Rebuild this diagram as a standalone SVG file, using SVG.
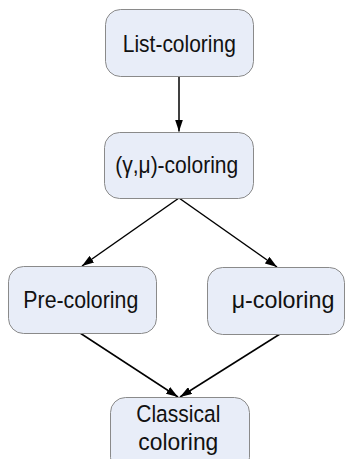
<svg xmlns="http://www.w3.org/2000/svg" width="345" height="459" viewBox="0 0 345 459">
<defs>
<marker id="ah" viewBox="0 0 12 8" refX="12" refY="4" markerWidth="12" markerHeight="8" markerUnits="userSpaceOnUse" orient="auto">
<path d="M0,0 L12,4 L0,8 Z" fill="#000"/>
</marker>
<style>
.box{fill:#E8EDF8;stroke:#8A8A8A;stroke-width:1}
.t{font-family:"Liberation Sans",Arial,sans-serif;font-size:24.5px;fill:#111;text-anchor:middle}
.c{stroke:#000;stroke-width:1.5;fill:none;marker-end:url(#ah)}
</style>
</defs>
<rect width="345" height="459" fill="#fff"/>
<g id="connectors">
<line class="c" x1="179" y1="76" x2="179" y2="131.5"/>
<line class="c" x1="179" y1="198" x2="82" y2="266"/>
<line class="c" x1="179" y1="198" x2="277" y2="267"/>
<line class="c" x1="80" y1="333" x2="178" y2="397"/>
<line class="c" x1="280" y1="334" x2="180" y2="397"/>
</g>
<g id="list-coloring">
<rect class="box" x="105.5" y="9.5" width="148" height="67" rx="15"/>
<text class="t" x="179.3" y="52.3" textLength="113" lengthAdjust="spacingAndGlyphs">List-coloring</text>
</g>
<g id="gamma-mu-coloring">
<rect class="box" x="104.5" y="132.5" width="149" height="66" rx="15"/>
<text class="t" x="176.7" y="173" textLength="123" lengthAdjust="spacingAndGlyphs">(γ,μ)-coloring</text>
</g>
<g id="pre-coloring">
<rect class="box" x="8.5" y="266.5" width="148" height="67" rx="15"/>
<text class="t" x="80.8" y="307.5" textLength="115" lengthAdjust="spacingAndGlyphs">Pre-coloring</text>
</g>
<g id="mu-coloring">
<rect class="box" x="207.5" y="267.5" width="137" height="67" rx="15"/>
<text class="t" x="283" y="307.5" textLength="102.7" lengthAdjust="spacingAndGlyphs">μ-coloring</text>
</g>
<g id="classical-coloring">
<rect class="box" x="110.5" y="397.5" width="139" height="75" rx="15"/>
<text class="t" x="178.3" y="422.3" textLength="84" lengthAdjust="spacingAndGlyphs">Classical</text>
<text class="t" x="178.3" y="450" textLength="80" lengthAdjust="spacingAndGlyphs">coloring</text>
</g>
</svg>
